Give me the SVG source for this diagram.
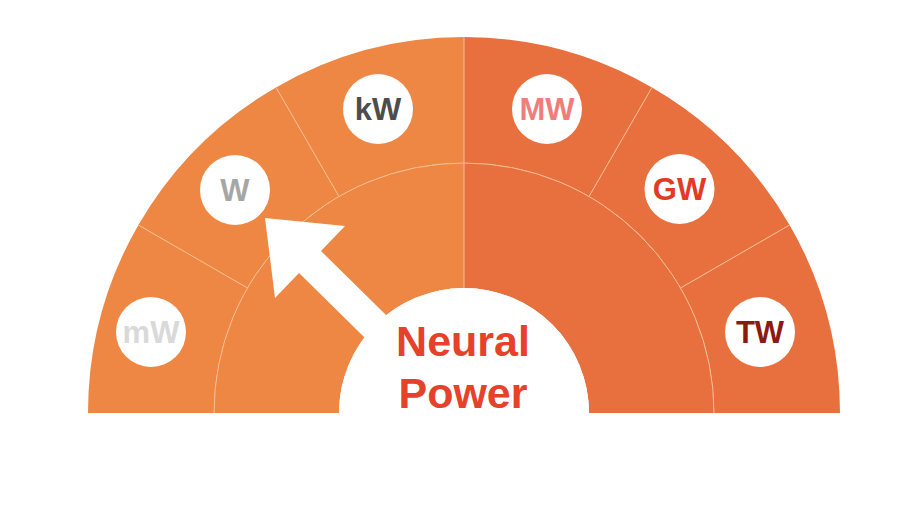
<svg xmlns="http://www.w3.org/2000/svg" width="900" height="507" viewBox="0 0 900 507">
<defs>
<style>
.left{fill:#EE8743}
.right{fill:#E8703F}
.div{stroke:#F6BE92;stroke-width:1;fill:none}
.badge{fill:#FFFFFF}
.lbl{font-family:"Liberation Sans",Arial,sans-serif;font-weight:bold;font-size:31px;text-anchor:middle}
.title{font-family:"Liberation Sans",Arial,sans-serif;font-weight:bold;font-size:43px;text-anchor:middle;fill:#E5412B}
</style>
</defs>
<rect width="900" height="507" fill="#FFFFFF"/>
<g id="sector-mW">
<path class="left" d="M88,413 A376,376 0 0 1 138.4,225 L247.5,288 A250,250 0 0 0 214,413 Z"/>
<circle class="badge" cx="151" cy="332" r="35"/>
<text class="lbl" x="151" y="343" fill="#D9D9D9">mW</text>
</g>
<g id="sector-W">
<path class="left" d="M138.4,225 A376,376 0 0 1 276,87.4 L339,196.5 A250,250 0 0 0 247.5,288 Z"/>
<circle class="badge" cx="235" cy="190" r="35"/>
<text class="lbl" x="235" y="201" fill="#A6A6A6">W</text>
</g>
<g id="sector-kW">
<path class="left" d="M276,87.4 A376,376 0 0 1 464,37 L464,163 A250,250 0 0 0 339,196.5 Z"/>
<circle class="badge" cx="378" cy="109" r="35"/>
<text class="lbl" x="378" y="120" fill="#4D4D4D">kW</text>
</g>
<g id="sector-MW">
<path class="right" d="M464,37 A376,376 0 0 1 652,87.4 L589,196.5 A250,250 0 0 0 464,163 Z"/>
<circle class="badge" cx="547" cy="109" r="35"/>
<text class="lbl" x="547" y="120" fill="#EE7E7B">MW</text>
</g>
<g id="sector-GW">
<path class="right" d="M652,87.4 A376,376 0 0 1 789.6,225 L680.5,288 A250,250 0 0 0 589,196.5 Z"/>
<circle class="badge" cx="679.5" cy="189" r="35"/>
<text class="lbl" x="679.5" y="200" fill="#E23A26">GW</text>
</g>
<g id="sector-TW">
<path class="right" d="M789.6,225 A376,376 0 0 1 840,413 L714,413 A250,250 0 0 0 680.5,288 Z"/>
<circle class="badge" cx="760" cy="332" r="35"/>
<text class="lbl" x="760" y="343" fill="#8B1A10">TW</text>
</g>
<g id="inner-left">
<path class="left" d="M214,413 A250,250 0 0 1 464,163 L464,288 A125,125 0 0 0 339,413 Z"/>
</g>
<g id="inner-right">
<path class="right" d="M464,163 A250,250 0 0 1 714,413 L589,413 A125,125 0 0 0 464,288 Z"/>
</g>
<g id="dividers">
<path class="div" d="M214,413 A250,250 0 0 1 714,413"/>
<line class="div" x1="138.4" y1="225" x2="247.5" y2="288"/>
<line class="div" x1="276" y1="87.4" x2="339" y2="196.5"/>
<line class="div" x1="464" y1="37" x2="464" y2="288"/>
<line class="div" x1="652" y1="87.4" x2="589" y2="196.5"/>
<line class="div" x1="789.6" y1="225" x2="680.5" y2="288"/>
</g>
<g id="connectors">
<polygon fill="#FFFFFF" points="265,218 345,226 321,251 447,375 425,397 299,273 275,298"/>
</g>
<g id="center">
<path fill="#FFFFFF" d="M339,413 A125,125 0 0 1 589,413 Z"/>
<text class="title" x="463" y="356">Neural</text>
<text class="title" x="463" y="408">Power</text>
</g>
</svg>
